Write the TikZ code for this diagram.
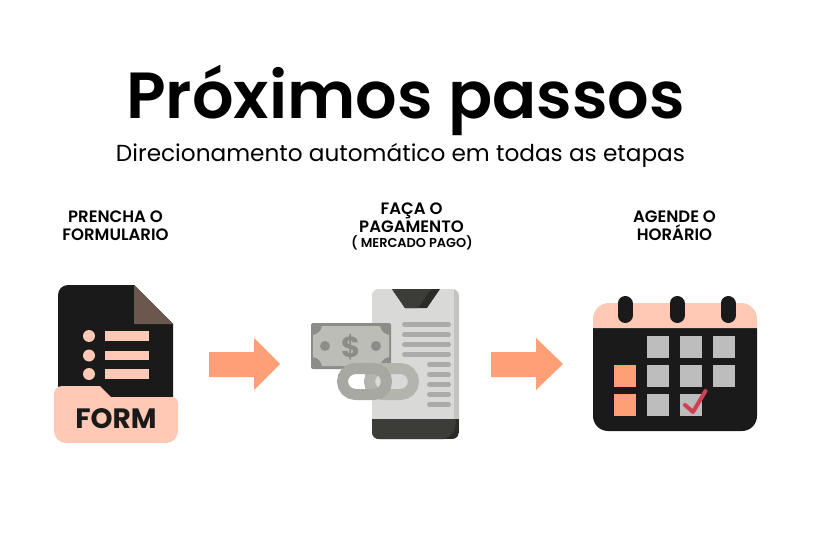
\documentclass[tikz,border=0pt]{standalone}
\usepackage{fontspec}
\setmainfont{Poppins}
\newfontfamily\semib{Poppins SemiBold}
\newfontfamily\boldface{Poppins Bold}
\definecolor{ink}{HTML}{1A1A1A}
\definecolor{peach}{HTML}{FFC9B5}
\definecolor{salmon}{HTML}{FF9F78}
\definecolor{foldc}{HTML}{6B574E}
\definecolor{phone}{HTML}{D9D9D8}
\definecolor{phoneside}{HTML}{C3C3C0}
\definecolor{phonedark}{HTML}{3C3C38}
\definecolor{phonedarker}{HTML}{2B2B28}
\definecolor{lineg}{HTML}{ABABA8}
\definecolor{billdark}{HTML}{8C8C88}
\definecolor{billlight}{HTML}{BDBDB8}
\definecolor{linka}{HTML}{A8A8A3}
\definecolor{linkb}{HTML}{B4B4AF}
\definecolor{cell}{HTML}{BDBDBD}
\definecolor{checkc}{HTML}{CF4055}
\tikzset{
  x=1pt,y=-1pt,
  label text/.style={font=\semib\fontsize{16.5}{18.3}\selectfont,align=center,text=black,inner sep=0pt},
  block arrow/.style={fill=salmon,draw=none},
  row line/.style={line width=5pt,line cap=round,draw=lineg},
  cell box/.style={fill=cell,draw=none},
  hot box/.style={fill=salmon,draw=none},
  ring/.style={line width=15pt,line cap=round,draw=ink},
}
\begin{document}
\begin{tikzpicture}
\useasboundingbox (0,0) rectangle (822,548);
\fill[white] (0,0) rectangle (822,548);
\node[font=\semib\fontsize{65.2}{70}\selectfont,inner sep=0pt] (title) at (405.5,100) {Próximos passos};
\node[font=\fontsize{23.2}{28}\selectfont,inner sep=0pt] (sub) at (400.5,155) {Direcionamento automático em todas as etapas};
\node[label text] (l1) at (115.5,225.5) {PRENCHA O\\FORMULARIO};
\node[label text] (l2) at (411.5,218) {FAÇA O\\PAGAMENTO};
\node[font=\semib\fontsize{12.9}{14}\selectfont,inner sep=0pt] (l2b) at (412,242.5) {( MERCADO PAGO)};
\node[label text] (l3) at (674.5,225.5) {AGENDE O\\HORÁRIO};
% form icon
\fill[ink] (58,397) [rounded corners=10pt] -- (58,285) [sharp corners] -- (134,285) -- (173,324) -- (173,397) -- cycle;
\fill[foldc] (134,285) -- (173,324) -- (134,324) -- cycle;
\foreach \y in {336,355.5,374}{
  \fill[peach] (89,\y) circle[radius=6];
  \fill[peach] (105,\y-5) rectangle (149,\y+4.5);
}
\fill[peach] (54,400) [rounded corners=8pt] -- (54,386) [sharp corners] -- (100,386) -- (111,397) [rounded corners=6pt] -- (178,397) [rounded corners=12pt] -- (178,443) -- (54,443) [sharp corners] -- cycle;
\node[font=\boldface\fontsize{28}{30}\selectfont,text=ink,inner sep=0pt] (form) at (116,419) {FORM};
% arrows
\fill[block arrow] (209,352) -- (254,352) -- (254,338) -- (280,364) -- (254,390) -- (254,377) -- (209,377) -- cycle;
\fill[block arrow] (491,352) -- (536,352) -- (536,338) -- (563,364) -- (536,390) -- (536,377) -- (491,377) -- cycle;
% phone
\fill[phoneside,rounded corners=7pt] (372,289) rectangle (459,439);
\begin{scope}
\clip[rounded corners=7pt] (372,289) rectangle (459,439);
\fill[phone] (372,289) rectangle (454,439);
\fill[phonedarker] (372,419) rectangle (459,439);
\fill[phonedark] (372,419) -- (456,419) .. controls (456,430) and (452,436) .. (444,439) -- (372,439) -- cycle;
\end{scope}
\fill[phonedarker] (392,289) -- (440,289) -- (427,308) -- (405,308) -- cycle;
\fill[phonedark] (392,289) -- (431,289) -- (418,308) -- (405,308) -- cycle;
\foreach \y in {324.5,334.5,344.5,354.5} \draw[row line] (404.5,\y) -- (448.5,\y);
\foreach \y in {364.5,374.5,384.5,394.5,404.5} \draw[row line] (429.5,\y) -- (448.5,\y);
% bill
\fill[billdark,rounded corners=2pt] (311,323) rectangle (391,369);
\fill[billlight] (322,326) -- (380,326) .. controls (381,331) and (384,334) .. (389,335) -- (389,357) .. controls (384,358) and (381,361) .. (380,366) -- (322,366) .. controls (321,361) and (318,358) .. (313,357) -- (313,335) .. controls (318,334) and (321,331) .. (322,326) -- cycle;
\fill[billdark] (325,346) circle[radius=5];
\fill[billdark] (376,346) circle[radius=5];
\node[font=\boldface\fontsize{29}{30}\selectfont,text=billdark,inner sep=0pt] (dollar) at (351,347) {\$};
% chain
\draw[line width=11pt,draw=linkb,rounded corners=13pt] (369.5,368.5) rectangle (413.5,394.5);
\draw[line width=11pt,draw=linka,rounded corners=13pt] (342.5,368.5) rectangle (386.5,394.5);
% calendar
\fill[ink] (593,328) [rounded corners=15pt] -- (593,431) -- (757,431) [sharp corners] -- (757,328) -- cycle;
\fill[peach] (593,328) [rounded corners=16pt] -- (593,303) -- (757,303) [sharp corners] -- (757,328) -- cycle;
\foreach \x in {625,677,728} \draw[ring] (\x,303.5) -- (\x,315.5);
\foreach \x/\y in {647/336,680/336,713/336,647/365,680/365,713/365,647/394,680/394} \fill[cell box] (\x,\y) rectangle +(22,22);
\foreach \y in {365,394} \fill[hot box] (614,\y) rectangle +(22,22);
\draw[checkc,line width=4pt,line cap=round,line join=round] (685,405) -- (693,412) -- (705.5,391);
\end{tikzpicture}
\end{document}
